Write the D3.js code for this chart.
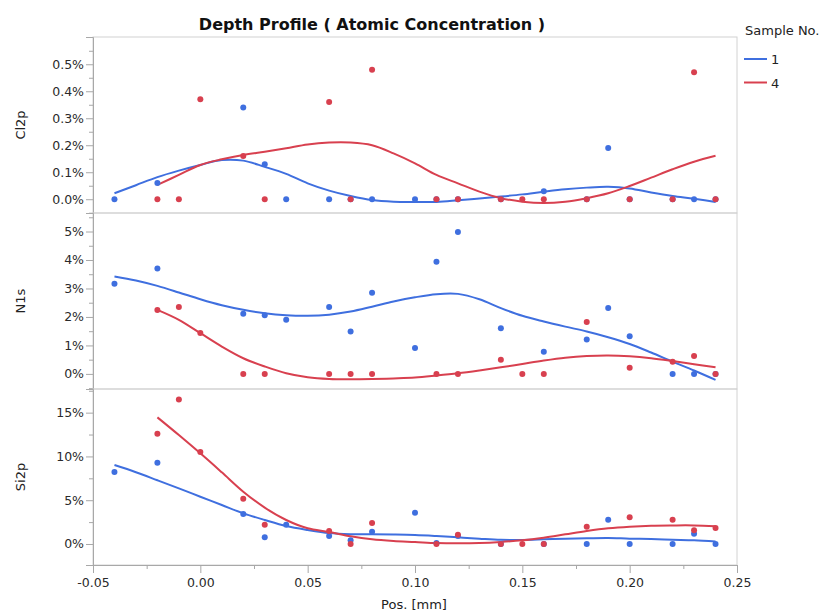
<!DOCTYPE html>
<html>
<head>
<meta charset="utf-8">
<script src="https://cdn.jsdelivr.net/npm/d3@7"></script>
<style>
  body { margin: 0; background: #fff; }
  text { font-family: "DejaVu Sans", Verdana, sans-serif; fill: #222; }
</style>
</head>
<body>
<div id="chart"></div>
<script>
// measured positions [mm]
const posSample1 = [-0.04, -0.02, 0.02, 0.03, 0.04, 0.06, 0.07, 0.08, 0.10, 0.11, 0.12, 0.14, 0.16, 0.18, 0.19, 0.20, 0.22, 0.23, 0.24];
const posSample4 = [-0.02, -0.01, 0.00, 0.02, 0.03, 0.06, 0.07, 0.08, 0.11, 0.12, 0.14, 0.15, 0.16, 0.18, 0.20, 0.22, 0.23, 0.24];

// atomic concentration [%]
const cl2pSample1 = [0, 0.06, 0.34, 0.13, 0, 0, 0, 0, 0, 0, 0, 0, 0.03, 0, 0.19, 0, 0, 0, 0];
const cl2pSample4 = [0, 0, 0.37, 0.16, 0, 0.36, 0, 0.48, 0, 0, 0, 0, 0, 0, 0, 0, 0.47, 0];
const n1sSample1 = [3.17, 3.70, 2.11, 2.06, 1.90, 2.35, 1.49, 2.85, 0.91, 3.94, 4.98, 1.60, 0.78, 1.21, 2.31, 1.32, 0, 0, 0];
const n1sSample4 = [2.24, 2.35, 1.44, 0, 0, 0, 0, 0, 0, 0, 0.50, 0, 0, 1.82, 0.22, 0.43, 0.63, 0];
const si2pSample1 = [8.22, 9.28, 3.42, 0.76, 2.20, 0.91, 0.42, 1.41, 3.58, 0.10, 0.90, 0, 0, 0, 2.78, 0, 0, 1.18, 0];
const si2pSample4 = [12.6, 16.5, 10.5, 5.17, 2.20, 1.48, 0, 2.40, 0, 1.06, 0, 0, 0, 1.98, 3.05, 2.78, 1.56, 1.83];

// smoother curves
const fitPos1 = [-0.04, -0.03, -0.02, -0.01, 0.00, 0.01, 0.02, 0.03, 0.04, 0.05, 0.06, 0.07, 0.08, 0.09, 0.10, 0.11, 0.12, 0.13, 0.14, 0.15, 0.16, 0.17, 0.18, 0.19, 0.20, 0.21, 0.22, 0.23, 0.24];
const fitPos4 = [-0.02, -0.01, 0.00, 0.01, 0.02, 0.03, 0.04, 0.05, 0.06, 0.07, 0.08, 0.09, 0.10, 0.11, 0.12, 0.13, 0.14, 0.15, 0.16, 0.17, 0.18, 0.19, 0.20, 0.21, 0.22, 0.23, 0.24];
const cl2pFit1 = [0.022, 0.052, 0.082, 0.106, 0.127, 0.145, 0.143, 0.12, 0.094, 0.059, 0.032, 0.012, -0.003, -0.009, -0.01, -0.01, -0.004, 0.003, 0.01, 0.018, 0.028, 0.037, 0.043, 0.046, 0.04, 0.025, 0.012, 0.002, -0.01];
const cl2pFit4 = [0.053, 0.09, 0.127, 0.148, 0.164, 0.176, 0.189, 0.203, 0.21, 0.21, 0.2, 0.17, 0.133, 0.09, 0.059, 0.028, 0.004, -0.009, -0.014, -0.009, 0.004, 0.022, 0.049, 0.08, 0.111, 0.139, 0.161];
const n1sFit1 = [3.42, 3.28, 3.09, 2.86, 2.62, 2.41, 2.25, 2.13, 2.06, 2.04, 2.08, 2.19, 2.36, 2.54, 2.69, 2.8, 2.81, 2.62, 2.31, 2.04, 1.84, 1.66, 1.49, 1.29, 1.05, 0.75, 0.43, 0.12, -0.21];
const n1sFit4 = [2.25, 1.90, 1.43, 0.96, 0.55, 0.26, 0.02, -0.12, -0.18, -0.19, -0.18, -0.16, -0.13, -0.06, 0.02, 0.12, 0.23, 0.35, 0.47, 0.57, 0.63, 0.65, 0.62, 0.55, 0.45, 0.34, 0.23];
const si2pFit1 = [9.02, 8.2, 7.28, 6.35, 5.40, 4.45, 3.50, 2.74, 2.05, 1.60, 1.25, 1.12, 1.10, 1.08, 1.03, 0.91, 0.76, 0.61, 0.48, 0.46, 0.53, 0.61, 0.65, 0.68, 0.61, 0.57, 0.49, 0.42, 0.27];
const si2pFit4 = [14.46, 12.44, 10.35, 8.18, 5.97, 4.15, 2.74, 1.79, 1.38, 0.88, 0.53, 0.34, 0.23, 0.11, 0.08, 0.11, 0.23, 0.42, 0.72, 1.10, 1.48, 1.79, 1.98, 2.09, 2.12, 2.12, 2.02];

const panelNames = ["Cl2p", "N1s", "Si2p"];
const panelDomains = [[-0.051, 0.601], [-0.53, 5.65], [-2.4, 17.7]];
const panelMajor = [0.1, 1, 5];
const panelFormat = [".1f", ".0f", ".0f"];
const sampleNames = ["1", "4"];
const sampleColors = ["#3f6fdf", "#d8404f"];
const xTicks = [-0.05, 0, 0.05, 0.10, 0.15, 0.20, 0.25];

const W = 837, H = 614;
const plotLeft = 93, plotRight = 737, plotTop = 37, panelH = 176;

const svg = d3.select("#chart").append("svg")
  .attr("width", W)
  .attr("height", H);

const x = d3.scaleLinear().domain([-0.05, 0.25]).range([plotLeft, plotRight]);

const panels = [
  { pts: [[posSample1, cl2pSample1], [posSample4, cl2pSample4]], fits: [[fitPos1, cl2pFit1], [fitPos4, cl2pFit4]] },
  { pts: [[posSample1, n1sSample1], [posSample4, n1sSample4]], fits: [[fitPos1, n1sFit1], [fitPos4, n1sFit4]] },
  { pts: [[posSample1, si2pSample1], [posSample4, si2pSample4]], fits: [[fitPos1, si2pFit1], [fitPos4, si2pFit4]] }
];

// title
svg.append("text")
  .attr("x", 372).attr("y", 30)
  .attr("text-anchor", "middle")
  .style("font-size", "16px")
  .style("font-weight", "bold")
  .style("fill", "#111")
  .text("Depth Profile ( Atomic Concentration )");

panels.forEach((p, i) => {
  let y0 = plotTop + i * panelH;
  let y = d3.scaleLinear().domain(panelDomains[i]).range([y0 + panelH, y0]);
  let g = svg.append("g");

  g.append("rect")
    .attr("x", plotLeft).attr("y", y0)
    .attr("width", plotRight - plotLeft).attr("height", panelH)
    .attr("fill", "none")
    .attr("stroke", "#d2d2d2");

  // y axis: majors + minors
  let step = panelMajor[i];
  let majors = d3.range(0, panelDomains[i][1] - step * 0.2, step);
  let minors = d3.range(Math.ceil(panelDomains[i][0] / (step / 2)) * step / 2, panelDomains[i][1], step / 2)
    .filter(v => Math.abs(v / step - Math.round(v / step)) > 1e-6);
  let fmt = d3.format(panelFormat[i]);

  let yAxis = g.append("g")
    .attr("transform", `translate(${plotLeft},0)`)
    .call(d3.axisLeft(y).tickValues(majors).tickSize(7).tickPadding(2).tickFormat(d => fmt(d) + "%"));
  yAxis.select(".domain").attr("stroke", "#a8a8a8");
  yAxis.selectAll(".tick line").attr("stroke", "#a8a8a8");
  yAxis.selectAll(".tick text").style("font-size", "12.5px").style("fill", "#2a2a2a").attr("font-family", null);

  g.append("g").selectAll("line")
    .data(minors)
    .join("line")
    .attr("x1", plotLeft - 4).attr("x2", plotLeft)
    .attr("y1", d => y(d) + 0.5).attr("y2", d => y(d) + 0.5)
    .attr("stroke", "#a8a8a8");

  g.append("text")
    .attr("transform", `translate(25,${y0 + panelH / 2}) rotate(-90)`)
    .attr("text-anchor", "middle")
    .style("font-size", "13px")
    .text(panelNames[i]);

  let clipId = "clip" + i;
  g.append("clipPath").attr("id", clipId)
    .append("rect")
    .attr("x", plotLeft).attr("y", y0)
    .attr("width", plotRight - plotLeft).attr("height", panelH);

  let plot = g.append("g").attr("clip-path", `url(#${clipId})`);

  let line = d3.line()
    .x(d => x(d[0]))
    .y(d => y(d[1]))
    .curve(d3.curveCatmullRom);

  p.fits.forEach((f, s) => {
    plot.append("path")
      .datum(f[0].map((v, k) => [v, f[1][k]]))
      .attr("d", line)
      .attr("fill", "none")
      .attr("stroke", sampleColors[s])
      .attr("stroke-width", 2);
  });

  p.pts.forEach((pt, s) => {
    plot.append("g").selectAll("circle")
      .data(pt[0].map((v, k) => [v, pt[1][k]]))
      .join("circle")
      .attr("cx", d => x(d[0]))
      .attr("cy", d => y(d[1]))
      .attr("r", 3)
      .attr("fill", sampleColors[s]);
  });
});

// x axis
const plotBottom = plotTop + 3 * panelH;
const xFmt = d3.format(".2f");
const xAxis = svg.append("g")
  .attr("transform", `translate(0,${plotBottom})`)
  .call(d3.axisBottom(x).tickValues(xTicks).tickSize(8).tickPadding(5).tickFormat(d => xFmt(d).replace("\u2212", "-")));
xAxis.select(".domain").attr("stroke", "#a8a8a8");
xAxis.selectAll(".tick line").attr("stroke", "#a8a8a8");
xAxis.selectAll(".tick text").style("font-size", "12.5px").style("fill", "#2a2a2a").attr("font-family", null);

svg.append("g").selectAll("line")
  .data(xTicks.slice(0, -1).map(v => v + 0.025))
  .join("line")
  .attr("x1", d => x(d) + 0.5).attr("x2", d => x(d) + 0.5)
  .attr("y1", plotBottom).attr("y2", plotBottom + 4)
  .attr("stroke", "#a8a8a8");

svg.append("text")
  .attr("x", 414).attr("y", 609)
  .attr("text-anchor", "middle")
  .style("font-size", "13px")
  .text("Pos. [mm]");

// legend
svg.append("text")
  .attr("x", 745).attr("y", 35)
  .style("font-size", "13px")
  .text("Sample No.");

sampleNames.forEach((name, s) => {
  let ly = 59 + s * 23.5;
  svg.append("line")
    .attr("x1", 744).attr("x2", 767)
    .attr("y1", ly).attr("y2", ly)
    .attr("stroke", sampleColors[s])
    .attr("stroke-width", 2);
  svg.append("text")
    .attr("x", 771).attr("y", ly + 5)
    .style("font-size", "13px")
    .text(name);
});
</script>
</body>
</html>
